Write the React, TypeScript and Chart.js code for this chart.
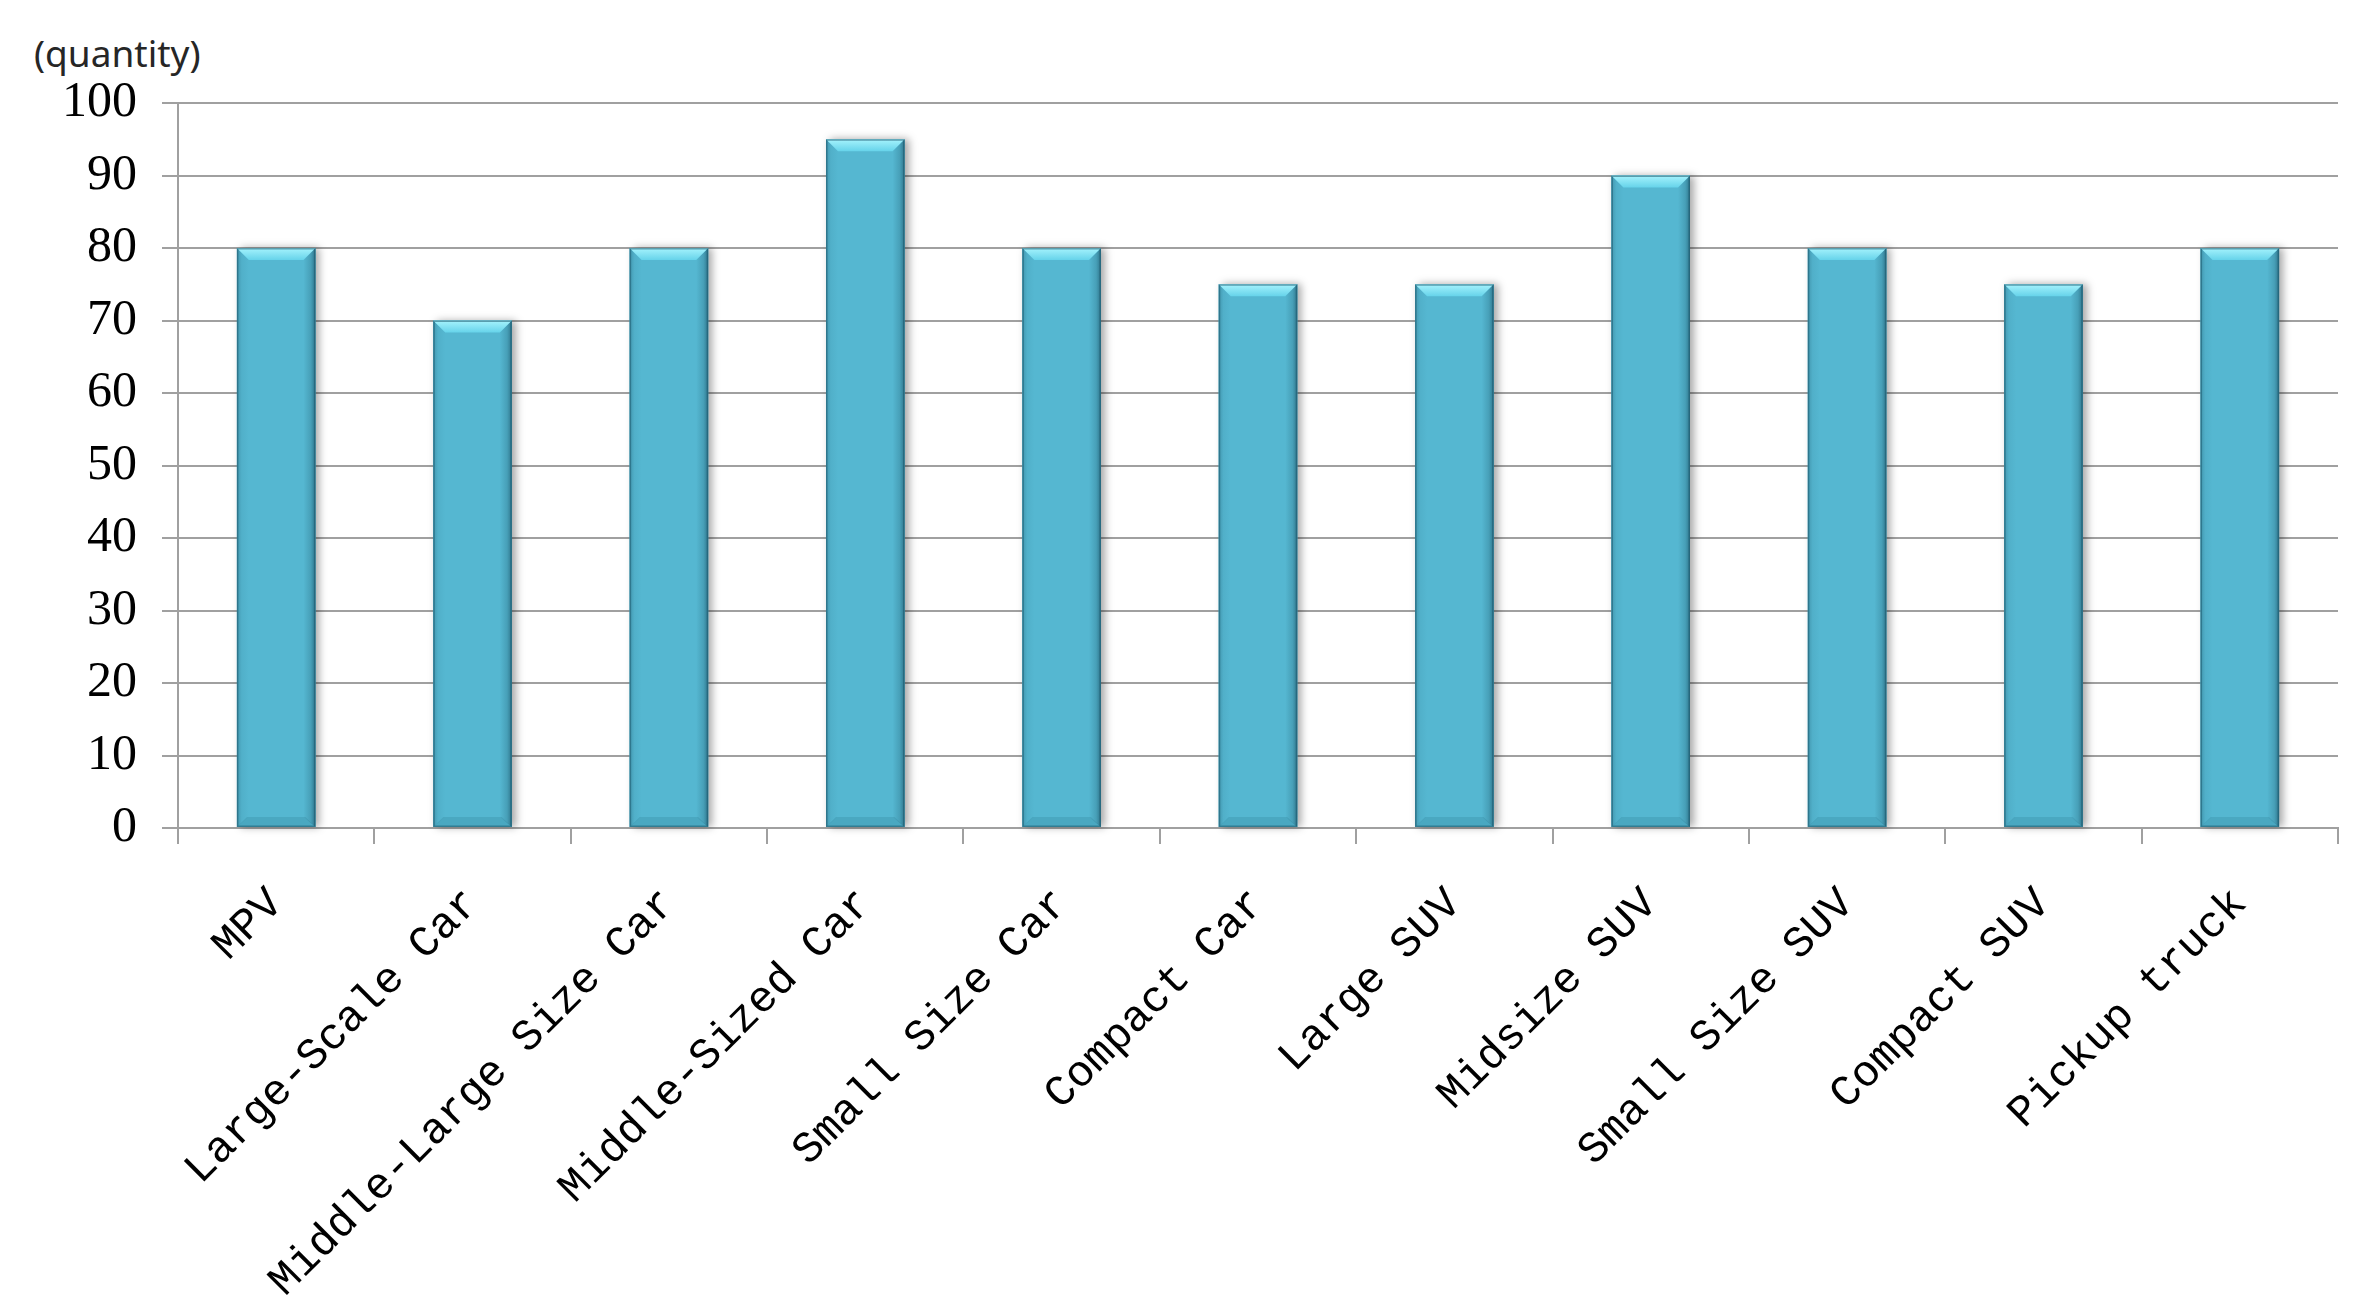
import React, { useEffect, useRef } from "react";
import { Chart, registerables } from "chart.js";

Chart.register(...registerables);

const categories = [
  "MPV",
  "Large-Scale Car",
  "Middle-Large Size Car",
  "Middle-Sized Car",
  "Small Size Car",
  "Compact Car",
  "Large SUV",
  "Midsize SUV",
  "Small Size SUV",
  "Compact SUV",
  "Pickup truck",
];
const quantities = [80, 70, 80, 95, 80, 75, 75, 90, 80, 75, 80];
const yMin = 0;
const yMax = 100;
const yStep = 10;

const W = 2374;
const H = 1314;
const GRID = "#a0a0a0";
const BAR = "#55b7d1";

const bevelPlugin = {
  id: "bevel",
  beforeDatasetsDraw(chart: any) {
    const ctx = chart.ctx;
    const meta = chart.getDatasetMeta(0);
    ctx.save();
    meta.data.forEach((bar: any) => {
      const { x, y, base, width } = bar.getProps(["x", "y", "base", "width"], true);
      ctx.shadowColor = "rgba(0,0,0,0.35)";
      ctx.shadowBlur = 8;
      ctx.shadowOffsetX = 4;
      ctx.shadowOffsetY = 0;
      ctx.fillStyle = BAR;
      ctx.fillRect(x - width / 2, y, width, base - y);
    });
    ctx.restore();
  },
  afterDatasetsDraw(chart: any) {
    const ctx = chart.ctx;
    const meta = chart.getDatasetMeta(0);
    ctx.save();
    meta.data.forEach((bar: any) => {
      const { x, y, base, width } = bar.getProps(["x", "y", "base", "width"], true);
      const l = x - width / 2;
      const r = x + width / 2;
      const t = 12;
      const b = 10;
      // right side
      const gr = ctx.createLinearGradient(r - t, 0, r, 0);
      gr.addColorStop(0, "rgba(30,90,110,0.0)");
      gr.addColorStop(0.6, "rgba(30,90,110,0.25)");
      gr.addColorStop(1, "rgba(20,70,90,0.6)");
      ctx.fillStyle = gr;
      ctx.beginPath();
      ctx.moveTo(r, y);
      ctx.lineTo(r - t, y + t);
      ctx.lineTo(r - t, base - b);
      ctx.lineTo(r, base);
      ctx.closePath();
      ctx.fill();
      // left side
      const gl = ctx.createLinearGradient(l, 0, l + t, 0);
      gl.addColorStop(0, "rgba(30,90,110,0.35)");
      gl.addColorStop(0.4, "rgba(30,90,110,0.08)");
      gl.addColorStop(1, "rgba(30,90,110,0.0)");
      ctx.fillStyle = gl;
      ctx.beginPath();
      ctx.moveTo(l, y);
      ctx.lineTo(l + t, y + t);
      ctx.lineTo(l + t, base - b);
      ctx.lineTo(l, base);
      ctx.closePath();
      ctx.fill();
      // bottom
      ctx.fillStyle = "rgba(30,100,120,0.18)";
      ctx.beginPath();
      ctx.moveTo(l, base);
      ctx.lineTo(l + b, base - b);
      ctx.lineTo(r - b, base - b);
      ctx.lineTo(r, base);
      ctx.closePath();
      ctx.fill();
      // top bevel
      const gt = ctx.createLinearGradient(0, y, 0, y + t);
      gt.addColorStop(0, "#a6f3fd");
      gt.addColorStop(1, "#66d3ea");
      ctx.fillStyle = gt;
      ctx.beginPath();
      ctx.moveTo(l, y);
      ctx.lineTo(r, y);
      ctx.lineTo(r - t, y + t);
      ctx.lineTo(l + t, y + t);
      ctx.closePath();
      ctx.fill();
      // edge outline
      ctx.strokeStyle = "rgba(30,90,110,0.55)";
      ctx.lineWidth = 1.5;
      ctx.strokeRect(l + 0.75, y + 0.75, width - 1.5, base - y - 1.5);
    });
    ctx.restore();
  },
};

export default function App() {
  const canvasRef = useRef<HTMLCanvasElement | null>(null);

  useEffect(() => {
    if (!canvasRef.current) return;
    const chart = new Chart(canvasRef.current, {
      type: "bar",
      data: {
        labels: categories,
        datasets: [
          {
            label: "quantity",
            data: quantities,
            backgroundColor: BAR,
            borderWidth: 0,
            categoryPercentage: 1,
            barPercentage: 0.4,
          },
        ],
      },
      options: {
        responsive: false,
        animation: false,
        layout: { padding: { top: 103, right: 36, bottom: 0, left: 0 } },
        plugins: {
          legend: { display: false },
          tooltip: { enabled: false },
          title: { display: false },
        },
        scales: {
          x: {
            grid: {
              offset: true,
              drawOnChartArea: false,
              drawTicks: true,
              tickLength: 16,
              color: GRID,
              lineWidth: 2,
            },
            border: { color: GRID, width: 2 },
            ticks: {
              autoSkip: false,
              minRotation: 45,
              maxRotation: 45,
              padding: 34,
              color: "#000",
              font: { family: "'Liberation Mono', monospace", size: 44 },
            },
            afterFit: (s: any) => {
              s.height = H - 828;
            },
          },
          y: {
            min: yMin,
            max: yMax,
            ticks: {
              stepSize: yStep,
              padding: 25,
              color: "#000",
              font: { family: "'Liberation Serif', serif", size: 50 },
            },
            grid: { color: GRID, lineWidth: 2, tickLength: 16 },
            border: { color: GRID, width: 2 },
            afterFit: (s: any) => {
              s.width = 178;
            },
          },
        },
      },
      plugins: [bevelPlugin],
    });
    return () => chart.destroy();
  }, []);

  return (
    <div
      style={{
        position: "fixed",
        left: 0,
        top: 0,
        width: W,
        height: H,
        background: "#fff",
      }}
    >
      <div
        style={{
          position: "absolute",
          left: 34,
          top: 34,
          fontFamily: "'Noto Sans', sans-serif",
          fontSize: 37,
          lineHeight: 1,
          color: "#262626",
        }}
      >
        (quantity)
      </div>
      <canvas
        ref={canvasRef}
        width={W}
        height={H}
        style={{ position: "absolute", left: 0, top: 0, width: W, height: H }}
      />
    </div>
  );
}
